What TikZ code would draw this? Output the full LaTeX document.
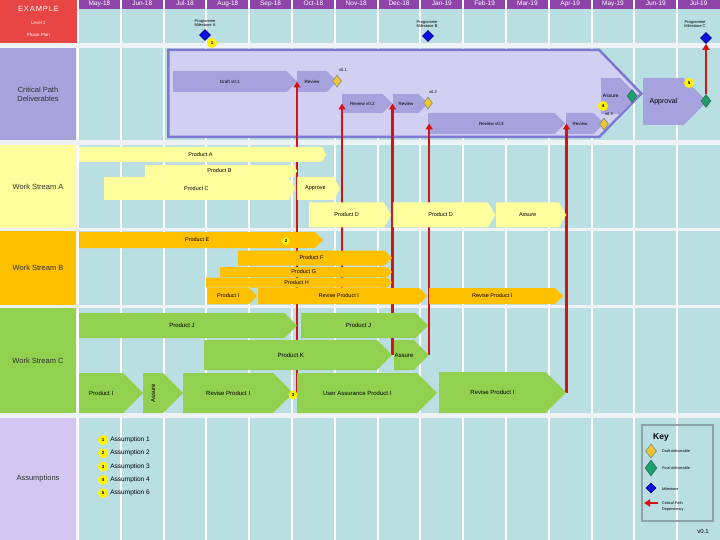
\documentclass[tikz,border=0pt]{standalone}
\usepackage{fontspec}
\setmainfont{Liberation Sans}
\usetikzlibrary{arrows.meta,positioning,shapes.geometric,shapes.symbols}
\definecolor{ink}{HTML}{303030}
\definecolor{gridBg}{HTML}{B9DFE3}
\definecolor{sepLine}{HTML}{EEF2F5}
\definecolor{hdrRed}{HTML}{E84545}
\definecolor{monthBar}{HTML}{8E44A8}
\definecolor{cpLane}{HTML}{A7A3DD}
\definecolor{cpBg}{HTML}{D2D0F2}
\definecolor{cpFr}{HTML}{7D79D2}
\definecolor{cpTask}{HTML}{A5A2DE}
\definecolor{cWsA}{HTML}{FFFF9E}
\definecolor{cWsB}{HTML}{FFC000}
\definecolor{cWsC}{HTML}{92D050}
\definecolor{cAssume}{HTML}{D4C6F0}
\definecolor{depRed}{HTML}{D41414}
\definecolor{draftFill}{HTML}{F4C430}
\definecolor{draftFr}{HTML}{8A9A7A}
\definecolor{finalFill}{HTML}{1E9E6A}
\definecolor{finalFr}{HTML}{2F6F5F}
\definecolor{msFill}{HTML}{0A10E0}
\definecolor{msFr}{HTML}{00008B}
\definecolor{keyFr}{HTML}{8FA4A8}
\pgfdeclarelayer{bg}
\pgfdeclarelayer{cp}
\pgfdeclarelayer{deps}
\pgfsetlayers{bg,cp,deps,main}
\tikzset{
  task/.style={shape=signal,signal to=east,signal pointer angle=90,anchor=west,
    inner sep=0.5pt,align=center,font=\fontsize{5.5}{6}\selectfont,text=black},
  cptask/.style={task,fill=cpTask,font=\fontsize{4.5}{5}\selectfont},
  taskA/.style={task,fill=cWsA,signal pointer angle=120},
  taskB/.style={task,fill=cWsB},
  taskC/.style={task,fill=cWsC,font=\fontsize{6}{7}\selectfont},
  lane/.style={minimum width=76pt,inner sep=2pt,align=center,
    font=\fontsize{7.5}{9}\selectfont,text=ink},
  month/.style={text=white,font=\fontsize{6.5}{7}\selectfont,inner sep=0pt},
  gridline/.style={white,line width=2pt},
  note/.style={circle,fill=yellow,inner sep=0pt,minimum size=10pt,
    font=\fontsize{4.5}{5}\selectfont\bfseries},
  draftdia/.style={diamond,fill=draftFill,draw=draftFr,line width=0.8pt,
    minimum width=9pt,minimum height=12pt,inner sep=0pt},
  finaldia/.style={diamond,fill=finalFill,draw=finalFr,line width=0.6pt,
    minimum width=10pt,minimum height=13pt,inner sep=0pt},
  msdia/.style={diamond,fill=msFill,draw=msFr,line width=0.6pt,
    minimum size=11pt,inner sep=0pt},
  msLabel/.style={align=center,font=\fontsize{4}{4.5}\selectfont,inner sep=0pt},
  verLabel/.style={font=\fontsize{4}{4.5}\selectfont,inner sep=0pt},
  asText/.style={font=\fontsize{6.5}{7}\selectfont,inner sep=0pt,anchor=west},
  keyText/.style={font=\fontsize{3.8}{6}\selectfont,inner sep=0pt,anchor=west,align=left},
  dep/.style={-{Triangle[length=6pt,width=7pt]},line width=2.4pt,depRed}}

\begin{document}
\begin{tikzpicture}[x=1pt,y=-1pt]
  \useasboundingbox (0,0) rectangle (720,540);
  % background, grid and lanes
  \begin{pgfonlayer}{bg}
    \fill[sepLine] (0,0) rectangle (78,540);
    \fill[gridBg] (78,9) rectangle (720,540);
    \fill[monthBar] (78,0) rectangle (720,9);
    \foreach \i in {0,...,14}
      \draw[gridline] ({78+42.8*\i},0) -- ({78+42.8*\i},540);
    \foreach \ya/\yb in {43/48,140/145,228/231,305/308,413/418}
      \fill[sepLine] (0,\ya) rectangle (720,\yb);
    \node[shape=signal,signal to=east,signal pointer angle=92,anchor=west,
      fill=cpBg,draw=cpFr,line width=2.5pt,minimum width=473pt,
      minimum height=87pt] (cpArea) at (167,93.5) {};
  \end{pgfonlayer}
  \foreach \m [count=\i from 0] in {May-18,Jun-18,Jul-18,Aug-18,Sep-18,Oct-18,
      Nov-18,Dec-18,Jan-19,Feb-19,Mar-19,Apr-19,May-19,Jun-19,Jul-19}
    \node[month] (mon\i) at ({99.4+42.8*\i},3.5) {\m};

  \node[fill=hdrRed,minimum width=77pt,minimum height=43pt,text=white,align=center,
    inner sep=0pt] (hdr) at (38.5,21.5)
    {{\fontsize{7.5}{9}\selectfont\addfontfeature{LetterSpace=12}EXAMPLE}\\[1pt]
     {\fontsize{4.5}{7}\selectfont Level 2}\\{\fontsize{4.5}{5}\selectfont Phase Plan}};
  \node[lane,fill=cpLane,minimum height=92pt] (lCP) at (38,94) {Critical Path\\Deliverables};
  \node[lane,fill=cWsA,minimum height=83pt] (lWA) at (38,186.5) {Work Stream A};
  \node[lane,fill=cWsB,minimum height=74pt] (lWB) at (38,268) {Work Stream B};
  \node[lane,fill=cWsC,minimum height=105pt] (lWC) at (38,360.5) {Work Stream C};
  \node[lane,fill=cAssume,minimum height=122pt] (lAs) at (38,479) {Assumptions};

  % milestones
  \node[msdia] (msA) at (205,35) {};
  \node[msdia] (msB) at (428,36) {};
  \node[msdia] (msC) at (706,38) {};
  \node[msLabel] (msAl) at (205,23) {Programme\\Milestone A};
  \node[msLabel] (msBl) at (427,24) {Programme\\Milestone B};
  \node[msLabel] (msCl) at (695,24) {Programme\\Milestone C};
  \node[note] (n1) at (212,43) {1};

  % critical path deliverables
  \begin{pgfonlayer}{cp}
    \node[cptask,minimum width=124pt,minimum height=21pt] (dr1) at (173,81.5) {Draft v0.1};
    \node[cptask,minimum width=40pt,minimum height=21pt] (rvA) at (297,81.5) {Review};
    \node[cptask,minimum width=50pt,minimum height=19pt] (rv2) at (342,103.5) {Review v0.2};
    \node[cptask,minimum width=35pt,minimum height=19pt] (rvB) at (393,103.5) {Review};
    \node[cptask,minimum width=137pt,minimum height=21pt] (rv3) at (428,123.5) {Review v0.3};
    \node[cptask,minimum width=38pt,minimum height=21pt] (rvC) at (566,123.5) {Review};
    \node[cptask,minimum width=37pt,minimum height=36pt,font=\fontsize{5}{6}\selectfont] (asP) at (601,96) {Assure};
    \node[cptask,minimum width=64pt,minimum height=47pt,font=\fontsize{7}{8}\selectfont] (appr) at (643,101.5) {Approval};
    \node[draftdia] (dA) at (337,81) {};
    \node[draftdia] (dB) at (428,103) {};
    \node[draftdia] (dC) at (604,124) {};
    \node[finaldia] (dD) at (632,96) {};
    \node[finaldia] (dE) at (706,101) {};
  \end{pgfonlayer}
  \node[verLabel] (vA) at (343,70) {v0.1};
  \node[verLabel] (vB) at (433,92) {v0.2};
  \node[verLabel] (vC) at (609,114) {v0.3};
  \node[note] (n4) at (603,106) {4};
  \node[note] (n5) at (689,83) {5};

  % work stream A
  \node[taskA,minimum width=247pt,minimum height=15pt] (pA) at (79,154.5) {Product A};
  \node[taskA,minimum width=152pt,minimum height=12pt] (pB) at (145,171) {Product B};
  \node[taskA,minimum width=191pt,minimum height=23pt] (pC) at (104,188.5) {Product C};
  \node[taskA,minimum width=43pt,minimum height=23pt] (apA) at (297,188.5) {Approve};
  \node[taskA,minimum width=82pt,minimum height=25pt] (pD1) at (309,215) {Product D};
  \node[taskA,minimum width=102pt,minimum height=25pt] (pD2) at (393,215) {Product D};
  \node[taskA,minimum width=70pt,minimum height=25pt] (asA) at (496,215) {Assure};

  % work stream B
  \node[taskB,minimum width=244pt,minimum height=16pt] (pE) at (79,240) {Product E};
  \node[taskB,minimum width=154pt,minimum height=15pt] (pF) at (238,258) {Product F};
  \node[taskB,minimum width=172pt,minimum height=10pt] (pG) at (220,272) {Product G};
  \node[taskB,minimum width=186pt,minimum height=10pt] (pH) at (206,282.5) {Product H};
  \node[taskB,minimum width=50pt,minimum height=16pt] (pI) at (207,296) {Product I};
  \node[taskB,minimum width=169pt,minimum height=16pt] (rvI1) at (258,296) {Revise Product I};
  \node[taskB,minimum width=134pt,minimum height=16pt] (rvI2) at (429,296) {Revise Product I};
  \node[note,minimum size=8pt] (n2) at (286,241) {2};

  % work stream C
  \node[taskC,minimum width=218pt,minimum height=25pt] (pJ1) at (79,325.5) {Product J};
  \node[taskC,minimum width=127pt,minimum height=25pt] (pJ2) at (301,325.5) {Product J};
  \node[taskC,minimum width=188pt,minimum height=30pt] (pK) at (204,355) {Product K};
  \node[taskC,minimum width=34pt,minimum height=30pt] (asC) at (394,355) {Assure};
  \node[taskC,minimum width=64pt,minimum height=40pt] (pIc) at (79,393) {Product I};
  \node[taskC,minimum width=40pt,minimum height=40pt] (asC2) at (143,393) {\rotatebox{90}{Assure}};
  \node[taskC,minimum width=110pt,minimum height=40pt] (rvC1) at (183,393) {Revise Product I};
  \node[taskC,minimum width=140pt,minimum height=40pt] (uaC) at (297,393) {User Assurance Product I};
  \node[taskC,minimum width=127pt,minimum height=41pt] (rvC2) at (439,392.5) {Revise Product I};
  \node[note,minimum size=9pt] (n3) at (293,395) {3};

  % assumptions
  \foreach \n/\t [count=\k from 0] in {1/Assumption 1,2/Assumption 2,3/Assumption 3,
      4/Assumption 4,5/Assumption 6} {
    \node[note] (as\n) at (103,{440+13.3*\k}) {\n};
    \node[asText,right=2pt of as\n] (ast\n) {\t};
  }

  % key
  \node[draw=keyFr,line width=2pt,minimum width=71pt,minimum height=96pt] (key) at (677.5,473) {};
  \node[font=\fontsize{8.5}{9}\selectfont\bfseries,inner sep=0pt] (keyT) at (661,437) {Key};
  \node[draftdia,minimum width=11pt,minimum height=14pt] (kD) at (651,451) {};
  \node[finaldia,minimum width=12pt,minimum height=16pt] (kF) at (651,468) {};
  \node[msdia,minimum size=10pt] (kM) at (651,488) {};
  \node[keyText] (kDt) at (662,451) {Draft deliverable};
  \node[keyText] (kFt) at (662,468) {Final deliverable};
  \node[keyText] (kMt) at (662,489) {Milestone};
  \node[keyText] (kAt) at (662,507) {Critical Path\\Dependency};
  \coordinate (kArrS) at (658,503);
  \coordinate (kArrE) at (644,503);
  \draw[dep] (kArrS) -- (kArrE);
  \node[font=\fontsize{6}{7}\selectfont,inner sep=0pt] (ver) at (703,531) {v0.1};

  % critical path dependencies
  \begin{pgfonlayer}{deps}
    \draw[dep] (rvA.west |- rvC1.east) -- (rvA.west);
    \draw[dep] (rv2.west |- rvI1.north) -- (rv2.west);
    \draw[dep] (pK.east) -- (pK.east |- rvB.west);
    \draw[dep] (asC.east) -- (asC.east |- rv3.west);
    \draw[dep] (rvC2.east) -- (rvC2.east |- rvC.west);
    \draw[dep] (dE) -- (msC);
  \end{pgfonlayer}
\end{tikzpicture}
\end{document}
